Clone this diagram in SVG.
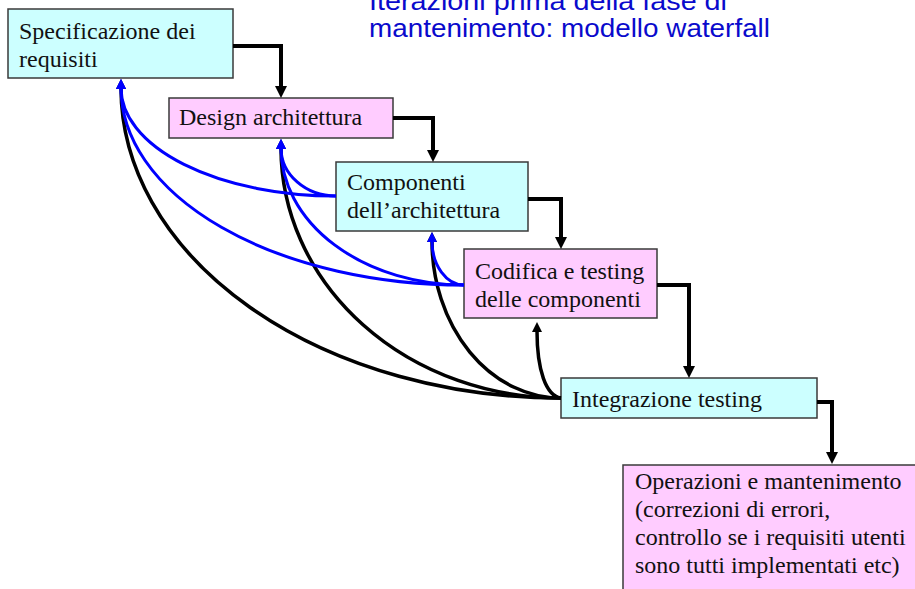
<svg xmlns="http://www.w3.org/2000/svg" width="915" height="589" viewBox="0 0 915 589">
  <style>
    .box { stroke: #3a3a3a; stroke-width: 1.5; }
    .req { fill: #ccffff; }
    .dev { fill: #ffccff; }
    .lbl { font-family: "Liberation Serif", "Times New Roman", serif; font-size: 24px; fill: #111; }
    .title { font-family: "Liberation Sans", Arial, sans-serif; font-size: 26px; fill: #0a0acc; }
    .flow { fill: none; stroke: #000; stroke-width: 4; stroke-linejoin: miter; marker-end: url(#ah-lg); }
    .back-k { fill: none; stroke: #000; stroke-width: 3.5; marker-end: url(#ah-k); }
    .back-b { fill: none; stroke: #0000ff; stroke-width: 3; marker-end: url(#ah-b); }
  </style>
  <defs>
    <marker id="ah-lg" viewBox="0 0 12 12" markerWidth="12" markerHeight="12" refX="1" refY="6" orient="auto" markerUnits="userSpaceOnUse">
      <path d="M0,0 L12,6 L0,12 z" fill="#000"/>
    </marker>
    <marker id="ah-k" viewBox="0 0 10 10" markerWidth="10" markerHeight="10" refX="1" refY="5" orient="auto" markerUnits="userSpaceOnUse">
      <path d="M0,0 L10,5 L0,10 z" fill="#000"/>
    </marker>
    <marker id="ah-b" viewBox="0 0 10 10" markerWidth="10" markerHeight="10" refX="1" refY="5" orient="auto" markerUnits="userSpaceOnUse">
      <path d="M0,0 L10,5 L0,10 z" fill="#0000ff"/>
    </marker>
  </defs>

  <!-- heading -->
  <g id="heading">
    <text class="title" x="369" y="10" textLength="358" lengthAdjust="spacingAndGlyphs">Iterazioni prima della fase di</text>
    <text class="title" x="369" y="37" textLength="401" lengthAdjust="spacingAndGlyphs">mantenimento: modello waterfall</text>
  </g>

  <!-- phases -->
  <g id="requisiti">
    <rect class="box req" x="8" y="9" width="225" height="69"/>
    <text class="lbl" x="19" y="39">Specificazione dei</text>
    <text class="lbl" x="19" y="67">requisiti</text>
  </g>
  <g id="design">
    <rect class="box dev" x="169" y="98" width="224" height="40"/>
    <text class="lbl" x="179" y="125">Design architettura</text>
  </g>
  <g id="componenti">
    <rect class="box req" x="336" y="162" width="192" height="69"/>
    <text class="lbl" x="347" y="190">Componenti</text>
    <text class="lbl" x="347" y="218">dell’architettura</text>
  </g>
  <g id="codifica">
    <rect class="box dev" x="464" y="249" width="193" height="69"/>
    <text class="lbl" x="475" y="279">Codifica e testing</text>
    <text class="lbl" x="475" y="307">delle componenti</text>
  </g>
  <g id="integrazione">
    <rect class="box req" x="561" y="378" width="256" height="40"/>
    <text class="lbl" x="572" y="407">Integrazione testing</text>
  </g>
  <g id="operazioni">
    <rect class="box dev" x="623" y="465" width="310" height="140"/>
    <text class="lbl" x="635" y="489">Operazioni e mantenimento</text>
    <text class="lbl" x="635" y="517">(correzioni di errori,</text>
    <text class="lbl" x="635" y="545">controllo se i requisiti utenti</text>
    <text class="lbl" x="635" y="573">sono tutti implementati etc)</text>
  </g>

  <!-- connectors -->
  <g id="connectors">
    <!-- forward cascade -->
    <path class="flow" d="M233,46 H281 V87"/>
    <path class="flow" d="M393,118 H433 V151"/>
    <path class="flow" d="M528,199 H561 V238"/>
    <path class="flow" d="M657,285 H689 V367"/>
    <path class="flow" d="M817,402 H832 V453"/>
    <!-- feedback from integration testing -->
    <path class="back-k" d="M561,398 A440,310 0 0 1 121,88"/>
    <path class="back-k" d="M561,398 A280,250 0 0 1 281,148"/>
    <path class="back-k" d="M561,398 A129,157 0 0 1 432,241"/>
    <path class="back-k" d="M561,398 C546,396 537,370 537,331"/>
    <!-- feedback from component design and coding -->
    <path class="back-b" d="M336,196 A215,108 0 0 1 121,88"/>
    <path class="back-b" d="M336,196 A55,48 0 0 1 281,148"/>
    <path class="back-b" d="M464,285 A343,197 0 0 1 121,88"/>
    <path class="back-b" d="M464,285 A183,137 0 0 1 281,148"/>
    <path class="back-b" d="M464,285 A32,44 0 0 1 432,241"/>
  </g>
</svg>
